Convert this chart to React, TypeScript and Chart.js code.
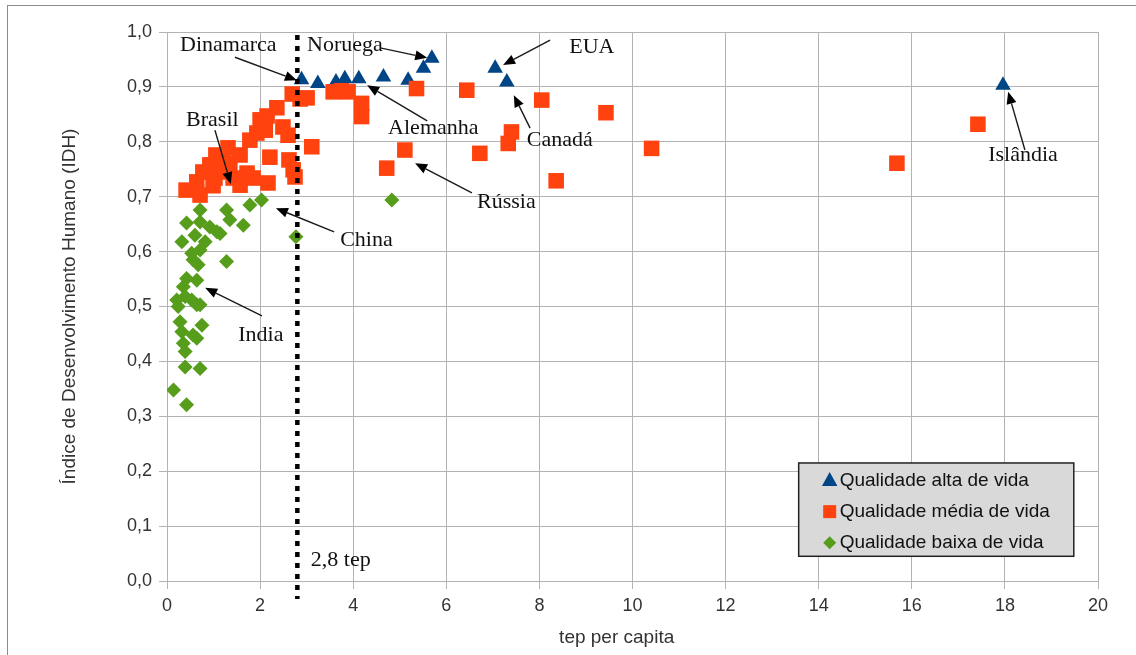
import React, { useEffect, useRef } from 'react';
import { Chart, registerables } from 'chart.js';

Chart.register(...registerables);

// ---------- DATA ----------
const seriesLabels = ['Qualidade alta de vida', 'Qualidade média de vida', 'Qualidade baixa de vida'];

const altaX = [2.89, 3.24, 3.63, 3.82, 4.12, 4.65, 5.18, 5.51, 5.69, 7.05, 7.30, 17.96];
const altaY = [0.913, 0.906, 0.909, 0.915, 0.915, 0.918, 0.912, 0.934, 0.952, 0.934, 0.909, 0.903];

const mediaX = [0.41, 0.64, 0.71, 0.77, 0.92, 0.99, 1.03, 1.05, 1.18, 1.25, 1.31, 1.35, 1.42, 1.57, 1.57, 1.72, 1.78, 1.85, 1.93, 2.00, 2.11, 2.15, 2.17, 2.21, 2.36, 2.49, 2.60, 2.62, 2.71, 2.75, 2.69, 2.86, 3.01, 3.11, 3.57, 3.75, 3.89, 4.18, 4.18, 4.72, 5.11, 5.36, 6.44, 6.72, 7.33, 7.40, 8.05, 8.36, 9.43, 10.41, 15.68, 17.42];
const mediaY = [0.712, 0.727, 0.703, 0.745, 0.758, 0.720, 0.734, 0.776, 0.763, 0.745, 0.789, 0.761, 0.734, 0.776, 0.721, 0.743, 0.803, 0.734, 0.816, 0.840, 0.821, 0.847, 0.725, 0.772, 0.862, 0.827, 0.812, 0.767, 0.749, 0.736, 0.887, 0.878, 0.880, 0.791, 0.891, 0.893, 0.891, 0.870, 0.846, 0.752, 0.785, 0.897, 0.894, 0.779, 0.797, 0.818, 0.876, 0.729, 0.853, 0.788, 0.761, 0.832];

const baixaX = [0.71, 0.71, 1.28, 1.35, 1.78, 2.03, 0.42, 0.60, 0.92, 1.07, 1.14, 0.32, 0.82, 0.71, 1.64, 0.53, 0.56, 0.67, 1.28, 0.42, 0.64, 0.35, 0.39, 0.21, 0.53, 0.64, 0.24, 0.71, 0.28, 0.75, 0.32, 0.56, 0.64, 0.35, 0.39, 0.39, 0.71, 0.14, 0.42, 2.77, 4.83];
const baixaY = [0.676, 0.654, 0.676, 0.658, 0.685, 0.694, 0.652, 0.630, 0.645, 0.636, 0.633, 0.618, 0.618, 0.603, 0.648, 0.597, 0.585, 0.576, 0.582, 0.551, 0.548, 0.536, 0.518, 0.512, 0.512, 0.503, 0.500, 0.503, 0.472, 0.466, 0.454, 0.448, 0.442, 0.433, 0.418, 0.390, 0.387, 0.348, 0.321, 0.627, 0.694];

const xMin = 0, xMax = 20, xStep = 2;
const yMin = 0, yMax = 1, yStep = 0.1;
const limitValue = 2.8;
const limitLabel = '2,8 tep';
const xTitle = 'tep per capita';
const yTitle = 'Índice de Desenvolvimento Humano (IDH)';

const annotationTexts = ['Dinamarca', 'Noruega', 'EUA', 'Brasil', 'Alemanha', 'Canadá', 'Islândia', 'Rússia', 'China', 'India'];
// label anchor (left, middle) and arrow from -> to, in data units
const annotationGeom = [
  { tx: 0.28, ty: 0.976, ax1: 1.46, ay1: 0.954, ax2: 2.79, ay2: 0.912 },
  { tx: 3.01, ty: 0.976, ax1: 4.58, ay1: 0.971, ax2: 5.59, ay2: 0.953 },
  { tx: 8.64, ty: 0.973, ax1: 8.23, ay1: 0.985, ax2: 7.22, ay2: 0.940 },
  { tx: 0.41, ty: 0.840, ax1: 1.03, ay1: 0.821, ax2: 1.37, ay2: 0.723 },
  { tx: 4.75, ty: 0.825, ax1: 5.59, ay1: 0.838, ax2: 4.30, ay2: 0.903 },
  { tx: 7.73, ty: 0.803, ax1: 7.80, ay1: 0.825, ax2: 7.45, ay2: 0.885 },
  { tx: 17.64, ty: 0.776, ax1: 18.43, ay1: 0.785, ax2: 18.07, ay2: 0.891 },
  { tx: 6.66, ty: 0.690, ax1: 6.55, ay1: 0.707, ax2: 5.33, ay2: 0.761 },
  { tx: 3.72, ty: 0.621, ax1: 3.59, ay1: 0.636, ax2: 2.34, ay2: 0.679 },
  { tx: 1.53, ty: 0.448, ax1: 2.04, ay1: 0.483, ax2: 0.82, ay2: 0.534 },
];
const limitLabelPos = { tx: 3.09, ty: 0.038 };

// ---------- STYLE ----------
const COLORS = ['#004586', '#ff420e', '#579d1c'];
const SANS = '"Liberation Sans", Arial, sans-serif';
const SERIF = '"Liberation Serif", "Times New Roman", serif';

const toPoints = (xs: number[], ys: number[]) => xs.map((x, i) => ({ x, y: ys[i] }));

function drawMarker(ctx: CanvasRenderingContext2D, kind: number, x: number, y: number, s: number) {
  ctx.beginPath();
  if (kind === 0) {
    ctx.moveTo(x, y - s * 0.6);
    ctx.lineTo(x + s * 0.55, y + s * 0.4);
    ctx.lineTo(x - s * 0.55, y + s * 0.4);
  } else if (kind === 1) {
    ctx.rect(x - s / 2, y - s / 2, s, s);
  } else {
    ctx.moveTo(x, y - s / 2);
    ctx.lineTo(x + s / 2, y);
    ctx.lineTo(x, y + s / 2);
    ctx.lineTo(x - s / 2, y);
  }
  ctx.closePath();
  ctx.fill();
}

const overlayPlugin = {
  id: 'overlay',
  afterDatasetsDraw(chart: any) {
    const { ctx, scales } = chart;
    const xs = scales.x, ys = scales.y;
    ctx.save();
    // dotted threshold line
    const lx = xs.getPixelForValue(limitValue);
    ctx.strokeStyle = '#000';
    ctx.lineWidth = 4.5;
    ctx.setLineDash([5, 6]);
    ctx.beginPath();
    ctx.moveTo(lx, ys.getPixelForValue(yMax) + 3);
    ctx.lineTo(lx, ys.getPixelForValue(yMin) + 18);
    ctx.stroke();
    ctx.setLineDash([]);

    // annotations
    ctx.font = '22px ' + SERIF;
    ctx.fillStyle = '#111';
    ctx.textBaseline = 'middle';
    ctx.textAlign = 'left';
    annotationTexts.forEach((t, i) => {
      const g = annotationGeom[i];
      ctx.fillStyle = '#111';
      ctx.fillText(t, xs.getPixelForValue(g.tx), ys.getPixelForValue(g.ty));
      const x1 = xs.getPixelForValue(g.ax1), y1 = ys.getPixelForValue(g.ay1);
      const x2 = xs.getPixelForValue(g.ax2), y2 = ys.getPixelForValue(g.ay2);
      const ang = Math.atan2(y2 - y1, x2 - x1);
      const hl = 12, hw = 5;
      const bx = x2 - Math.cos(ang) * hl, by = y2 - Math.sin(ang) * hl;
      ctx.strokeStyle = '#1a1a1a';
      ctx.lineWidth = 1.4;
      ctx.beginPath();
      ctx.moveTo(x1, y1);
      ctx.lineTo(bx, by);
      ctx.stroke();
      ctx.fillStyle = '#000';
      ctx.beginPath();
      ctx.moveTo(x2, y2);
      ctx.lineTo(bx + Math.sin(ang) * hw, by - Math.cos(ang) * hw);
      ctx.lineTo(bx - Math.sin(ang) * hw, by + Math.cos(ang) * hw);
      ctx.closePath();
      ctx.fill();
    });
    ctx.fillStyle = '#111';
    ctx.fillText(limitLabel, xs.getPixelForValue(limitLabelPos.tx), ys.getPixelForValue(limitLabelPos.ty));

    // legend box
    const bx0 = xs.getPixelForValue(13.57), bx1 = xs.getPixelForValue(19.48);
    const by0 = ys.getPixelForValue(0.215), by1 = ys.getPixelForValue(0.045);
    ctx.fillStyle = '#d9d9d9';
    ctx.fillRect(bx0, by0, bx1 - bx0, by1 - by0);
    ctx.strokeStyle = '#222';
    ctx.lineWidth = 1.5;
    ctx.strokeRect(bx0, by0, bx1 - bx0, by1 - by0);
    ctx.font = '19px ' + SANS;
    const rowH = (by1 - by0) / 3;
    chart.data.datasets.forEach((ds: any, i: number) => {
      const cy = by0 + rowH * (i + 0.5) + 2;
      ctx.fillStyle = ds.backgroundColor;
      drawMarker(ctx, i, bx0 + 31, cy, i === 0 ? 14 : i === 1 ? 13 : 13);
      ctx.fillStyle = '#111';
      ctx.fillText(ds.label, bx0 + 41, cy);
    });
    ctx.restore();
  },
};

export default function App() {
  const ref = useRef<HTMLCanvasElement | null>(null);

  useEffect(() => {
    if (!ref.current) return;
    const chart = new Chart(ref.current, {
      type: 'scatter',
      data: {
        datasets: [
          {
            label: seriesLabels[0],
            data: toPoints(altaX, altaY),
            pointStyle: 'triangle',
            pointRadius: 9,
            backgroundColor: COLORS[0],
            borderColor: COLORS[0],
            borderWidth: 0,
            order: 3,
          },
          {
            label: seriesLabels[1],
            data: toPoints(mediaX, mediaY),
            pointStyle: 'rect',
            pointRadius: 11,
            backgroundColor: COLORS[1],
            borderColor: COLORS[1],
            borderWidth: 0,
            order: 2,
          },
          {
            label: seriesLabels[2],
            data: toPoints(baixaX, baixaY),
            pointStyle: 'rectRot',
            pointRadius: 7.5,
            backgroundColor: COLORS[2],
            borderColor: COLORS[2],
            borderWidth: 0,
            order: 1,
          },
        ],
      },
      options: {
        animation: false,
        responsive: true,
        maintainAspectRatio: false,
        layout: { padding: { left: 0, top: 32, right: 38, bottom: 0 } },
        plugins: {
          legend: { display: false },
          tooltip: { enabled: false },
        },
        scales: {
          x: {
            type: 'linear',
            min: xMin,
            max: xMax,
            afterFit: (s: any) => { s.height = 74; },
            ticks: {
              stepSize: xStep,
              color: '#333',
              font: { family: SANS, size: 18 },
              padding: 6,
            },
            grid: { color: '#b3b3b3', tickLength: 8, lineWidth: 1 },
            border: { color: '#b3b3b3' },
            title: {
              display: true,
              text: xTitle + '      ',
              color: '#333',
              font: { family: SANS, size: 19 },
              padding: { top: 0, bottom: 6 },
            },
          },
          y: {
            type: 'linear',
            min: yMin,
            max: yMax,
            afterFit: (s: any) => { s.width = 167; },
            ticks: {
              stepSize: yStep,
              color: '#333',
              font: { family: SANS, size: 18 },
              padding: 7,
              callback: (v: any) => Number(v).toFixed(1).replace('.', ','),
            },
            grid: { color: '#b3b3b3', tickLength: 8, lineWidth: 1 },
            border: { color: '#b3b3b3' },
            title: {
              display: true,
              text: yTitle,
              color: '#333',
              font: { family: SANS, size: 19 },
              padding: { top: 58, bottom: 0 },
            },
          },
        },
      },
      plugins: [overlayPlugin],
    });
    return () => chart.destroy();
  }, []);

  return (
    <div style={{ position: 'absolute', left: 0, top: 0, width: 1136, height: 655, background: '#fff' }}>
      <canvas ref={ref} />
      <div
        style={{
          position: 'absolute',
          left: 7,
          top: 5,
          right: 0,
          bottom: 0,
          borderTop: '1px solid #8c8c8c',
          borderLeft: '1px solid #8c8c8c',
          pointerEvents: 'none',
        }}
      />
    </div>
  );
}
